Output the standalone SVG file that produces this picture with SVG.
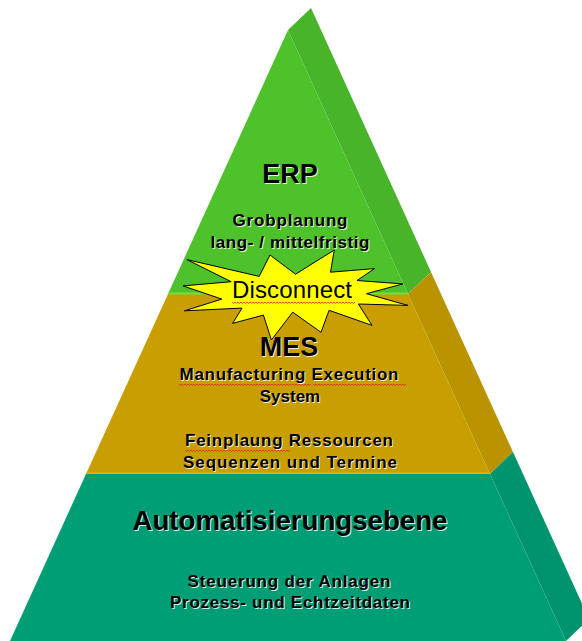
<svg xmlns="http://www.w3.org/2000/svg" width="582" height="641" viewBox="0 0 582 641">
<style>
.t{font-family:"Liberation Sans",Arial,sans-serif;font-weight:bold;text-anchor:middle;fill:#000}
.sh{fill:#ffffff;fill-opacity:0.85}
.sq{fill:none;stroke:#e02020;stroke-width:0.8}
</style>
<rect width="582" height="641" fill="#ffffff"/>
<g id="erp">
<polygon points="288,30 311,8 431,272 408,294" fill="#47B42A"/>
<polygon points="288,30 408,294 168,294" fill="#4EC22B"/>
<g class="t" font-size="27"><text x="291" y="184" class="sh">ERP</text><text x="290" y="183">ERP</text></g>
<g class="t" font-size="17">
<text x="291" y="227" class="sh" textLength="115" lengthAdjust="spacing">Grobplanung</text>
<text x="290" y="226" textLength="115" lengthAdjust="spacing">Grobplanung</text>
<text x="291" y="249" class="sh" textLength="159" lengthAdjust="spacing">lang- / mittelfristig</text>
<text x="290" y="248" textLength="159" lengthAdjust="spacing">lang- / mittelfristig</text>
</g>
</g>
<g id="mes">
<polygon points="408,294 431,272 513,452 490,474" fill="#BA9400"/>
<polygon points="168,294 408,294 490,474 86,474" fill="#C89E00"/>
<line x1="168" y1="293.5" x2="408" y2="293.5" stroke="#6EE043" stroke-width="2"/>
<line x1="86" y1="473.5" x2="490" y2="473.5" stroke="#E6B400" stroke-width="2"/>
<g class="t" font-size="27"><text x="290" y="357" class="sh">MES</text><text x="289" y="356">MES</text></g>
<g class="t" font-size="17">
<text x="290" y="381" class="sh" textLength="219" lengthAdjust="spacing">Manufacturing Execution</text>
<text x="289" y="380" textLength="219" lengthAdjust="spacing">Manufacturing Execution</text>
<text x="291" y="403" class="sh">System</text>
<text x="290" y="402">System</text>
<text x="290" y="447" class="sh" textLength="208" lengthAdjust="spacing">Feinplaung Ressourcen</text>
<text x="289" y="446" textLength="208" lengthAdjust="spacing">Feinplaung Ressourcen</text>
<text x="291" y="469" class="sh" textLength="214" lengthAdjust="spacing">Sequenzen und Termine</text>
<text x="290" y="468" textLength="214" lengthAdjust="spacing">Sequenzen und Termine</text>
</g>
<path class="sq" d="M179 384 l1.5 1.5 l1.5 -1.5 l1.5 1.5 l1.5 -1.5 l1.5 1.5 l1.5 -1.5 l1.5 1.5 l1.5 -1.5 l1.5 1.5 l1.5 -1.5 l1.5 1.5 l1.5 -1.5 l1.5 1.5 l1.5 -1.5 l1.5 1.5 l1.5 -1.5 l1.5 1.5 l1.5 -1.5 l1.5 1.5 l1.5 -1.5 l1.5 1.5 l1.5 -1.5 l1.5 1.5 l1.5 -1.5 l1.5 1.5 l1.5 -1.5 l1.5 1.5 l1.5 -1.5 l1.5 1.5 l1.5 -1.5 l1.5 1.5 l1.5 -1.5 l1.5 1.5 l1.5 -1.5 l1.5 1.5 l1.5 -1.5 l1.5 1.5 l1.5 -1.5 l1.5 1.5 l1.5 -1.5 l1.5 1.5 l1.5 -1.5 l1.5 1.5 l1.5 -1.5 l1.5 1.5 l1.5 -1.5 l1.5 1.5 l1.5 -1.5 l1.5 1.5 l1.5 -1.5 l1.5 1.5 l1.5 -1.5 l1.5 1.5 l1.5 -1.5 l1.5 1.5 l1.5 -1.5 l1.5 1.5 l1.5 -1.5 l1.5 1.5 l1.5 -1.5 l1.5 1.5 l1.5 -1.5 l1.5 1.5 l1.5 -1.5 l1.5 1.5 l1.5 -1.5 l1.5 1.5 l1.5 -1.5 l1.5 1.5 l1.5 -1.5 l1.5 1.5 l1.5 -1.5 l1.5 1.5 l1.5 -1.5 l1.5 1.5 l1.5 -1.5 l1.5 1.5 l1.5 -1.5 l1.5 1.5 l1.5 -1.5 l1.5 1.5 l1.5 -1.5 l1.5 1.5 l1.5 -1.5 l1.5 1.5 l1.5 -1.5 l1.5 1.5 l1.5 -1.5"/>
<path class="sq" d="M313 384 l1.5 1.5 l1.5 -1.5 l1.5 1.5 l1.5 -1.5 l1.5 1.5 l1.5 -1.5 l1.5 1.5 l1.5 -1.5 l1.5 1.5 l1.5 -1.5 l1.5 1.5 l1.5 -1.5 l1.5 1.5 l1.5 -1.5 l1.5 1.5 l1.5 -1.5 l1.5 1.5 l1.5 -1.5 l1.5 1.5 l1.5 -1.5 l1.5 1.5 l1.5 -1.5 l1.5 1.5 l1.5 -1.5 l1.5 1.5 l1.5 -1.5 l1.5 1.5 l1.5 -1.5 l1.5 1.5 l1.5 -1.5 l1.5 1.5 l1.5 -1.5 l1.5 1.5 l1.5 -1.5 l1.5 1.5 l1.5 -1.5 l1.5 1.5 l1.5 -1.5 l1.5 1.5 l1.5 -1.5 l1.5 1.5 l1.5 -1.5 l1.5 1.5 l1.5 -1.5 l1.5 1.5 l1.5 -1.5 l1.5 1.5 l1.5 -1.5 l1.5 1.5 l1.5 -1.5 l1.5 1.5 l1.5 -1.5 l1.5 1.5 l1.5 -1.5 l1.5 1.5 l1.5 -1.5 l1.5 1.5 l1.5 -1.5 l1.5 1.5 l1.5 -1.5 l1.5 1.5 l1.5 -1.5"/>
<path class="sq" d="M185 450 l1.5 1.5 l1.5 -1.5 l1.5 1.5 l1.5 -1.5 l1.5 1.5 l1.5 -1.5 l1.5 1.5 l1.5 -1.5 l1.5 1.5 l1.5 -1.5 l1.5 1.5 l1.5 -1.5 l1.5 1.5 l1.5 -1.5 l1.5 1.5 l1.5 -1.5 l1.5 1.5 l1.5 -1.5 l1.5 1.5 l1.5 -1.5 l1.5 1.5 l1.5 -1.5 l1.5 1.5 l1.5 -1.5 l1.5 1.5 l1.5 -1.5 l1.5 1.5 l1.5 -1.5 l1.5 1.5 l1.5 -1.5 l1.5 1.5 l1.5 -1.5 l1.5 1.5 l1.5 -1.5 l1.5 1.5 l1.5 -1.5 l1.5 1.5 l1.5 -1.5 l1.5 1.5 l1.5 -1.5 l1.5 1.5 l1.5 -1.5 l1.5 1.5 l1.5 -1.5 l1.5 1.5 l1.5 -1.5 l1.5 1.5 l1.5 -1.5 l1.5 1.5 l1.5 -1.5 l1.5 1.5 l1.5 -1.5 l1.5 1.5 l1.5 -1.5 l1.5 1.5 l1.5 -1.5 l1.5 1.5 l1.5 -1.5 l1.5 1.5 l1.5 -1.5 l1.5 1.5 l1.5 -1.5 l1.5 1.5 l1.5 -1.5 l1.5 1.5 l1.5 -1.5 l1.5 1.5 l1.5 -1.5 l1.5 1.5 l1.5 -1.5"/>
</g>
<g id="automatisierung">
<polygon points="490,474 513,452 589,619 566,641" fill="#00946E"/>
<polygon points="86,474 490,474 566,641 10,641" fill="#009E74"/>
<g class="t" font-size="27"><text x="291" y="531" class="sh" textLength="315" lengthAdjust="spacingAndGlyphs">Automatisierungsebene</text><text x="290" y="530" textLength="315" lengthAdjust="spacingAndGlyphs">Automatisierungsebene</text></g>
<g class="t" font-size="17">
<text x="290" y="588" class="sh" textLength="203" lengthAdjust="spacing">Steuerung der Anlagen</text>
<text x="289" y="587" textLength="203" lengthAdjust="spacing">Steuerung der Anlagen</text>
<text x="291" y="609" class="sh" textLength="240" lengthAdjust="spacing">Prozess- und Echtzeitdaten</text>
<text x="290" y="608" textLength="240" lengthAdjust="spacing">Prozess- und Echtzeitdaten</text>
</g>
</g>
<g id="disconnect">
<polygon points="295.5,274.2 334.3,250 330.5,272.2 374.5,268.6 357,280.5 402.8,283.9 366.5,293.7 408,305.4 358.4,304 372,325.4 329.1,310.3 321,332.3 292.7,312.2 271.4,340 263.4,315.1 232.6,323.4 242,308.1 184.4,310.8 221.8,299.1 183,285.9 231.2,281.7 186.9,259.6 259.2,276.4 270,255" fill="#FFFF00" stroke="#000" stroke-width="1" stroke-linejoin="miter"/>
<text x="292" y="298" font-family="'Liberation Sans',Arial,sans-serif" font-size="24" text-anchor="middle" textLength="120" lengthAdjust="spacing" fill="#000">Disconnect</text>
<path class="sq" d="M232 302 l1.5 1.5 l1.5 -1.5 l1.5 1.5 l1.5 -1.5 l1.5 1.5 l1.5 -1.5 l1.5 1.5 l1.5 -1.5 l1.5 1.5 l1.5 -1.5 l1.5 1.5 l1.5 -1.5 l1.5 1.5 l1.5 -1.5 l1.5 1.5 l1.5 -1.5 l1.5 1.5 l1.5 -1.5 l1.5 1.5 l1.5 -1.5 l1.5 1.5 l1.5 -1.5 l1.5 1.5 l1.5 -1.5 l1.5 1.5 l1.5 -1.5 l1.5 1.5 l1.5 -1.5 l1.5 1.5 l1.5 -1.5 l1.5 1.5 l1.5 -1.5 l1.5 1.5 l1.5 -1.5 l1.5 1.5 l1.5 -1.5 l1.5 1.5 l1.5 -1.5 l1.5 1.5 l1.5 -1.5 l1.5 1.5 l1.5 -1.5 l1.5 1.5 l1.5 -1.5 l1.5 1.5 l1.5 -1.5 l1.5 1.5 l1.5 -1.5 l1.5 1.5 l1.5 -1.5 l1.5 1.5 l1.5 -1.5 l1.5 1.5 l1.5 -1.5 l1.5 1.5 l1.5 -1.5 l1.5 1.5 l1.5 -1.5 l1.5 1.5 l1.5 -1.5 l1.5 1.5 l1.5 -1.5 l1.5 1.5 l1.5 -1.5 l1.5 1.5 l1.5 -1.5 l1.5 1.5 l1.5 -1.5 l1.5 1.5 l1.5 -1.5 l1.5 1.5 l1.5 -1.5 l1.5 1.5 l1.5 -1.5 l1.5 1.5 l1.5 -1.5 l1.5 1.5 l1.5 -1.5 l1.5 1.5 l1.5 -1.5 l1.5 1.5 l1.5 -1.5"/>
</g>
</svg>
